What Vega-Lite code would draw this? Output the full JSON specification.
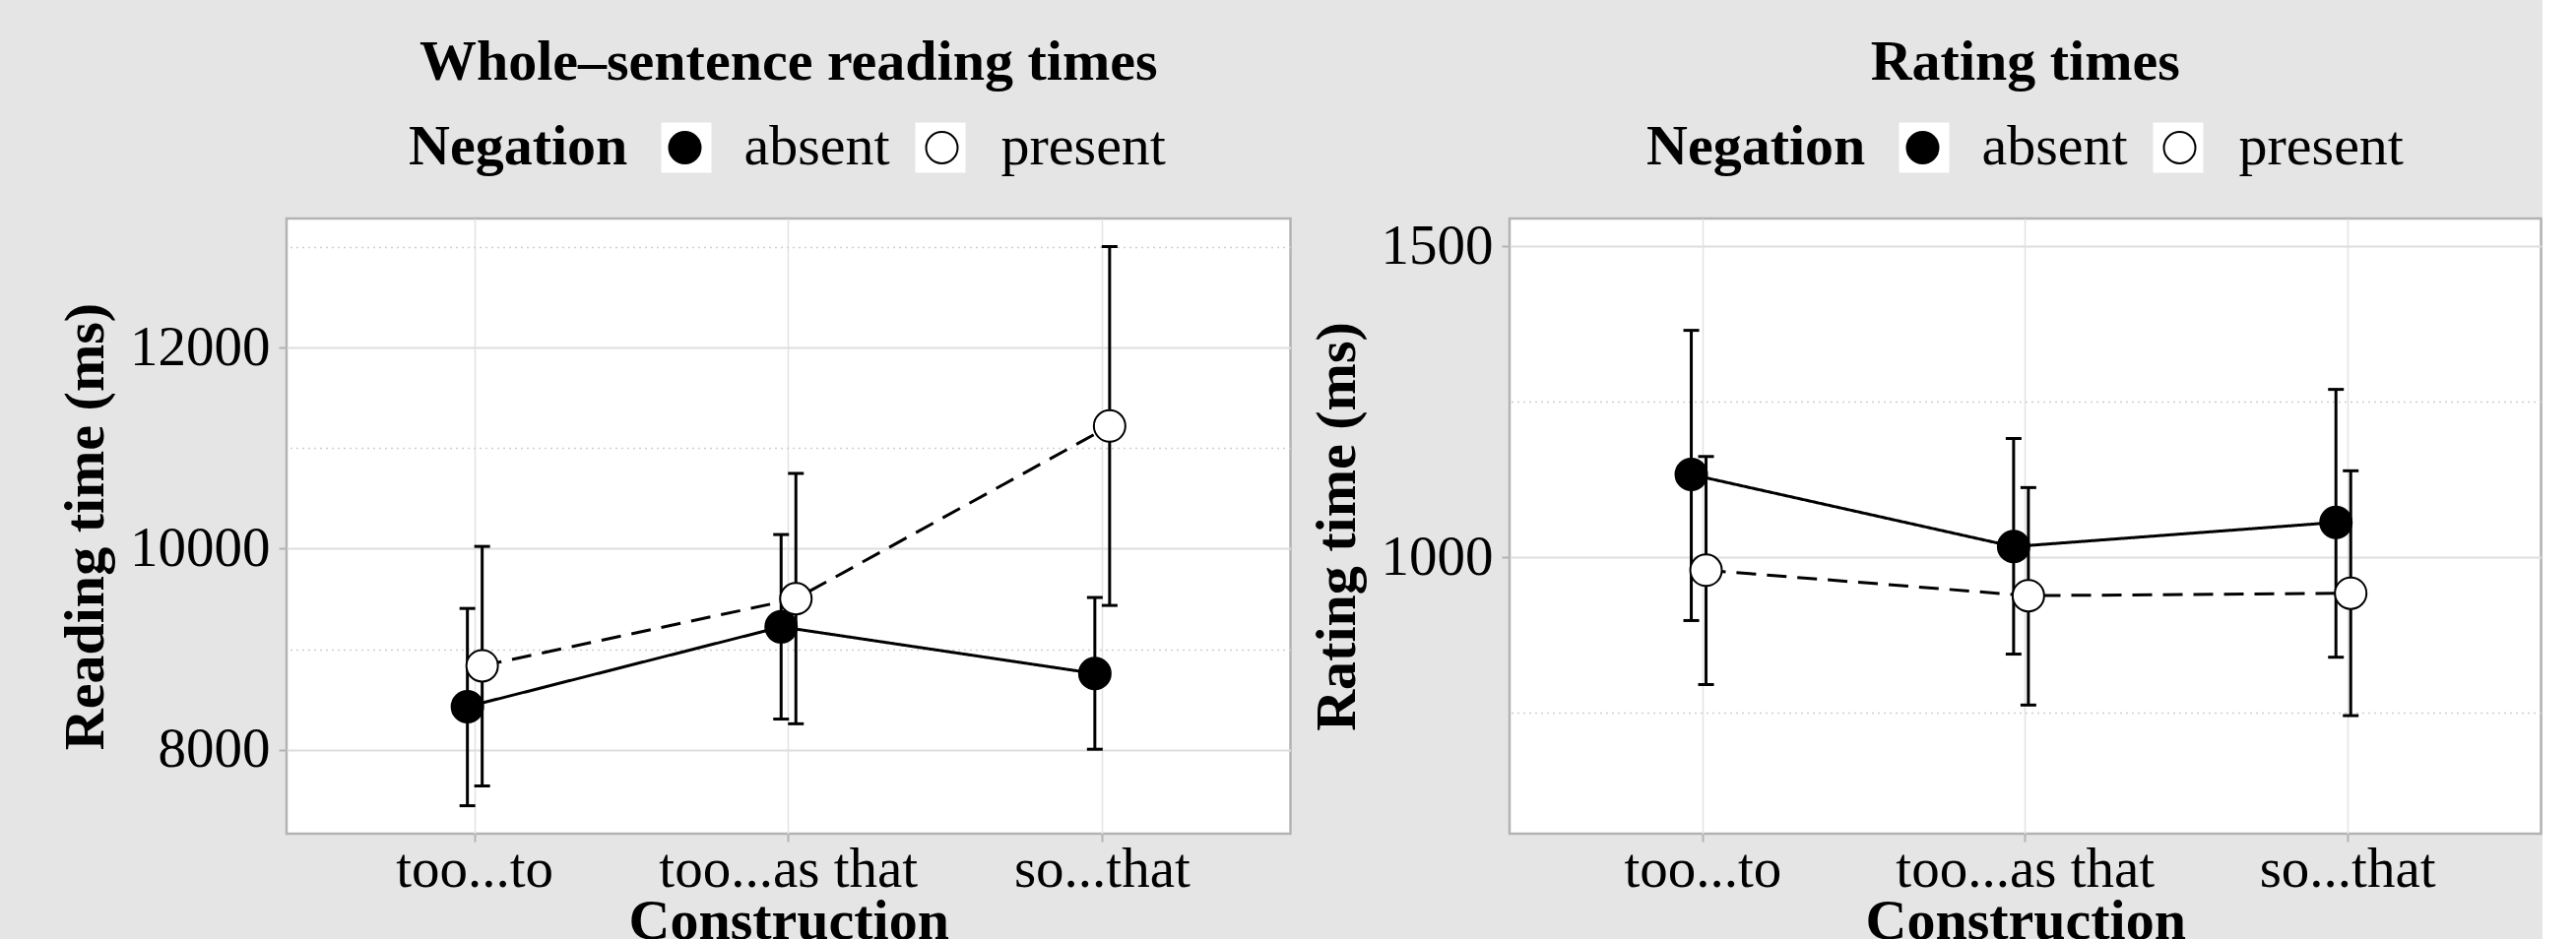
{
  "$schema": "https://vega.github.io/schema/vega-lite/v6.json",
  "background": "#e5e5e5",
  "padding": {"left": 57, "top": 33, "right": 0, "bottom": 0},
  "datasets": {
    "reading": [
      {"Construction": "too...to", "Negation": "absent", "mean": 8428, "lower": 7443, "upper": 9405},
      {"Construction": "too...to", "Negation": "present", "mean": 8835, "lower": 7640, "upper": 10022},
      {"Construction": "too...as that", "Negation": "absent", "mean": 9222, "lower": 8305, "upper": 10140},
      {"Construction": "too...as that", "Negation": "present", "mean": 9502, "lower": 8258, "upper": 10748},
      {"Construction": "so...that", "Negation": "absent", "mean": 8758, "lower": 8005, "upper": 9514},
      {"Construction": "so...that", "Negation": "present", "mean": 11219, "lower": 9435, "upper": 13004}
    ],
    "rating": [
      {"Construction": "too...to", "Negation": "absent", "mean": 1133, "lower": 898, "upper": 1365},
      {"Construction": "too...to", "Negation": "present", "mean": 979, "lower": 795, "upper": 1162},
      {"Construction": "too...as that", "Negation": "absent", "mean": 1017, "lower": 844, "upper": 1191},
      {"Construction": "too...as that", "Negation": "present", "mean": 938, "lower": 762, "upper": 1112},
      {"Construction": "so...that", "Negation": "absent", "mean": 1056, "lower": 839, "upper": 1270},
      {"Construction": "so...that", "Negation": "present", "mean": 942, "lower": 745, "upper": 1139}
    ],
    "keys": [{"Negation": "absent"}, {"Negation": "present"}]
  },
  "spacing": 15,
  "hconcat": [
    {
      "width": 1019.5,
      "height": 625,
      "view": {"fill": "white", "stroke": "#b3b3b3", "strokeWidth": 2.5},
      "title": {"text": "Whole–sentence reading times", "anchor": "middle", "frame": "group", "offset": 28},
      "layer": [
        {
          "data": {"name": "keys"},
          "mark": {"type": "point", "opacity": 0, "filled": true, "color": "white", "size": 2601, "strokeWidth": 0},
          "encoding": {
            "shape": {"field": "Negation", "type": "nominal", "scale": {"range": ["square", "square"]},
              "legend": {"title": "Negation", "titleColor": "transparent", "labelColor": "transparent", "orient": "none", "legendX": 124, "legendY": -101, "direction": "horizontal", "titleOrient": "left", "titlePadding": 30, "columnPadding": 21, "symbolType": "square", "symbolSize": 2601, "symbolStrokeWidth": 0, "symbolFillColor": "white", "symbolStrokeColor": "white", "symbolOpacity": 1, "labelOffset": 30}}
          }
        },
        {
          "data": {"name": "reading"},
          "encoding": {
            "x": {"field": "Construction", "type": "nominal", "sort": ["too...to", "too...as that", "so...that"], "title": "Construction",
              "scale": {"paddingInner": 0, "paddingOuter": 0.1},
              "axis": {"labelAngle": 0, "grid": true, "gridColor": "#e3e3e3", "gridWidth": 1.5, "bandPosition": 0.5, "tickSize": 8, "labelPadding": 0, "titlePadding": -4, "domain": false, "labelOverlap": false, "labelLimit": 0}},
            "xOffset": {"field": "Negation", "type": "nominal", "scale": {"domain": ["absent", "present"], "paddingInner": 0, "paddingOuter": 0, "range": [144.3, 174.3]}}
          },
          "layer": [
            {"mark": {"type": "rule", "color": "black", "strokeWidth": 3},
             "encoding": {
               "y": {"field": "lower", "type": "quantitative", "scale": {"domain": [7165, 13283], "nice": false, "zero": false},
                 "axis": {"values": [8000, 10000, 12000], "format": "d", "grid": true, "title": "Reading time (ms)", "tickSize": 8, "labelPadding": 9, "titlePadding": 15, "domain": false, "labelOverlap": false}},
               "y2": {"field": "upper"}}},
            {"mark": {"type": "tick", "color": "black", "thickness": 3, "size": 16, "opacity": 1},
             "encoding": {"y": {"field": "lower", "type": "quantitative", "axis": null}}},
            {"mark": {"type": "tick", "color": "black", "thickness": 3, "size": 16, "opacity": 1},
             "encoding": {"y": {"field": "upper", "type": "quantitative", "axis": null}}},
            {"mark": {"type": "line", "color": "black", "strokeWidth": 3},
             "encoding": {
               "y": {"field": "mean", "type": "quantitative",
                 "axis": {"orient": "right", "values": [9000, 11000, 13000], "labels": false, "ticks": false, "domain": false, "title": null, "grid": true, "gridDash": [2, 4], "gridColor": "#cfcfcf", "gridWidth": 1.5}},
               "strokeDash": {"field": "Negation", "type": "nominal", "scale": {"range": [[1, 0], [20, 11]]}, "legend": null}}},
            {"mark": {"type": "point", "shape": "circle", "size": 1024, "stroke": "black", "strokeWidth": 2, "opacity": 1, "filled": true},
             "encoding": {
               "y": {"field": "mean", "type": "quantitative", "axis": null},
               "fill": {"field": "Negation", "type": "nominal", "scale": {"domain": ["absent", "present"], "range": ["black", "white"]},
                 "legend": {"title": "Negation", "orient": "none", "legendX": 124, "legendY": -101, "direction": "horizontal", "titleOrient": "left", "titlePadding": 30, "columnPadding": 25, "symbolType": "circle", "symbolSize": 1024, "symbolStrokeWidth": 2, "symbolStrokeColor": "black", "symbolOpacity": 1, "symbolOffset": -1.5, "labelOffset": 31}}}}
          ],
          "resolve": {"axis": {"y": "independent"}}
        }
      ]
    },
    {
      "width": 1047.5,
      "height": 625,
      "view": {"fill": "white", "stroke": "#b3b3b3", "strokeWidth": 2.5},
      "title": {"text": "Rating times", "anchor": "middle", "frame": "group", "offset": 28},
      "layer": [
        {
          "data": {"name": "keys"},
          "mark": {"type": "point", "opacity": 0, "filled": true, "color": "white", "size": 2601, "strokeWidth": 0},
          "encoding": {
            "shape": {"field": "Negation", "type": "nominal", "scale": {"range": ["square", "square"]},
              "legend": {"title": "Negation", "titleColor": "transparent", "labelColor": "transparent", "orient": "none", "legendX": 139, "legendY": -101, "direction": "horizontal", "titleOrient": "left", "titlePadding": 30, "columnPadding": 21, "symbolType": "square", "symbolSize": 2601, "symbolStrokeWidth": 0, "symbolFillColor": "white", "symbolStrokeColor": "white", "symbolOpacity": 1, "labelOffset": 30}}
          }
        },
        {
          "data": {"name": "rating"},
          "encoding": {
            "x": {"field": "Construction", "type": "nominal", "sort": ["too...to", "too...as that", "so...that"], "title": "Construction",
              "scale": {"paddingInner": 0, "paddingOuter": 0.1},
              "axis": {"labelAngle": 0, "grid": true, "gridColor": "#e3e3e3", "gridWidth": 1.5, "bandPosition": 0.5, "tickSize": 8, "labelPadding": 0, "titlePadding": -4, "domain": false, "labelOverlap": false, "labelLimit": 0}},
            "xOffset": {"field": "Negation", "type": "nominal", "scale": {"domain": ["absent", "present"], "paddingInner": 0, "paddingOuter": 0, "range": [146.9, 180.5]}}
          },
          "layer": [
            {"mark": {"type": "rule", "color": "black", "strokeWidth": 3},
             "encoding": {
               "y": {"field": "lower", "type": "quantitative", "scale": {"domain": [555, 1545], "nice": false, "zero": false},
                 "axis": {"values": [1000, 1500], "format": "d", "grid": true, "title": "Rating time (ms)", "tickSize": 8, "labelPadding": 9, "titlePadding": 15, "domain": false, "labelOverlap": false}},
               "y2": {"field": "upper"}}},
            {"mark": {"type": "tick", "color": "black", "thickness": 3, "size": 16, "opacity": 1},
             "encoding": {"y": {"field": "lower", "type": "quantitative", "axis": null}}},
            {"mark": {"type": "tick", "color": "black", "thickness": 3, "size": 16, "opacity": 1},
             "encoding": {"y": {"field": "upper", "type": "quantitative", "axis": null}}},
            {"mark": {"type": "line", "color": "black", "strokeWidth": 3},
             "encoding": {
               "y": {"field": "mean", "type": "quantitative",
                 "axis": {"orient": "right", "values": [750, 1250], "labels": false, "ticks": false, "domain": false, "title": null, "grid": true, "gridDash": [2, 4], "gridColor": "#cfcfcf", "gridWidth": 1.5}},
               "strokeDash": {"field": "Negation", "type": "nominal", "scale": {"range": [[1, 0], [20, 11]]}, "legend": null}}},
            {"mark": {"type": "point", "shape": "circle", "size": 1024, "stroke": "black", "strokeWidth": 2, "opacity": 1, "filled": true},
             "encoding": {
               "y": {"field": "mean", "type": "quantitative", "axis": null},
               "fill": {"field": "Negation", "type": "nominal", "scale": {"domain": ["absent", "present"], "range": ["black", "white"]},
                 "legend": {"title": "Negation", "orient": "none", "legendX": 139, "legendY": -101, "direction": "horizontal", "titleOrient": "left", "titlePadding": 30, "columnPadding": 25, "symbolType": "circle", "symbolSize": 1024, "symbolStrokeWidth": 2, "symbolStrokeColor": "black", "symbolOpacity": 1, "symbolOffset": -1.5, "labelOffset": 31}}}}
          ],
          "resolve": {"axis": {"y": "independent"}}
        }
      ]
    }
  ],
  "resolve": {
    "scale": {"x": "independent", "y": "independent", "fill": "independent", "shape": "independent", "strokeDash": "independent"},
    "legend": {"fill": "independent", "shape": "independent"}
  },
  "config": {
    "font": "Liberation Serif",
    "view": {"fill": "white", "stroke": "#b3b3b3", "strokeWidth": 2.5},
    "axis": {"labelFont": "Liberation Serif", "labelFontSize": 57, "labelColor": "black", "titleFont": "Liberation Serif", "titleFontSize": 58, "titleFontWeight": "bold", "titleColor": "black", "tickColor": "#b3b3b3", "tickWidth": 2, "gridColor": "#dedede", "gridWidth": 2},
    "legend": {"labelFont": "Liberation Serif", "labelFontSize": 58, "labelColor": "black", "titleFont": "Liberation Serif", "titleFontSize": 58, "titleFontWeight": "bold", "titleColor": "black", "labelLimit": 0, "titleLimit": 0, "padding": 0, "rowPadding": 0},
    "title": {"font": "Liberation Serif", "fontSize": 58, "fontWeight": "bold", "color": "black"}
  }
}
